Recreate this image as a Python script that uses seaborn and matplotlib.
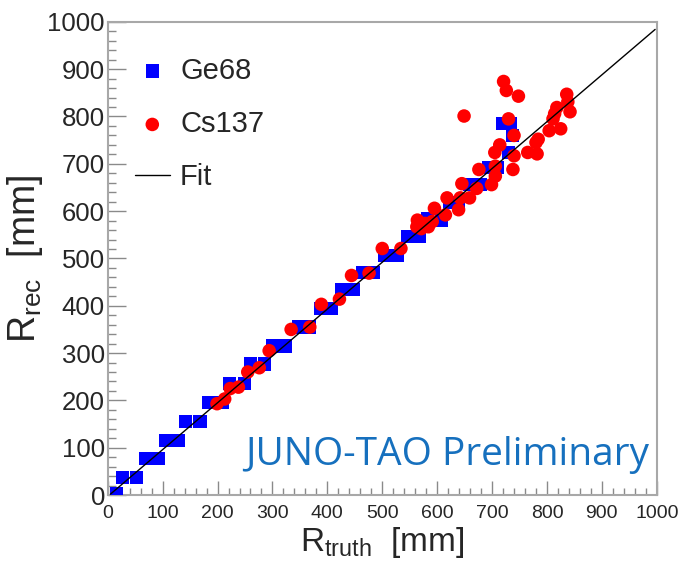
import numpy as np
import pandas as pd
import seaborn as sns
import matplotlib.pyplot as plt
from matplotlib.ticker import MultipleLocator

# Ge68 calibration points (R_truth, R_rec) in mm
ge68_truth = [16, 27, 53, 68, 93, 105, 128, 142, 168, 184, 208, 222, 249, 260,
              286, 301, 324, 348, 368, 387, 407, 426, 448, 464, 484, 505, 527,
              547, 568, 583, 608, 622, 639, 659, 679, 693, 709, 720, 733, 737,
              730]
ge68_rec = [2, 37, 37, 77, 77, 116, 116, 155, 155, 195, 195, 235, 235, 277,
            277, 315, 315, 355, 355, 394, 394, 434, 434, 471, 471, 506, 506,
            546, 546, 585, 581, 619, 619, 656, 656, 692, 692, 786, 786, 760,
            724]

# Cs137 calibration points (R_truth, R_rec) in mm
cs137_truth = [199, 213, 223, 238, 255, 276, 294, 334, 368, 389, 422, 444,
               476, 500, 534, 564, 563, 571, 578, 584, 591, 595, 615, 618,
               639, 642, 659, 645, 676, 672, 699, 706, 706, 705, 714, 740,
               730, 740, 738, 721, 726, 748, 649, 765, 782, 780, 784, 804,
               811, 818, 825, 836, 842, 838, 814]
cs137_rec = [193, 203, 225, 228, 260, 269, 305, 350, 355, 403, 414, 464,
             469, 521, 521, 581, 567, 563, 574, 567, 578, 606, 592, 628,
             603, 628, 628, 658, 688, 648, 656, 674, 695, 724, 740, 760,
             795, 717, 688, 874, 855, 843, 801, 724, 721, 745, 752, 770,
             795, 819, 774, 847, 810, 831, 806]

# linear fit R_rec = slope * R_truth + offset
fit_slope = 0.99
fit_offset = -3.0
fit_range = [5, 997]

sns.set_style('white')
plt.rcParams['font.family'] = ['Liberation Sans', 'DejaVu Sans']
plt.rcParams['mathtext.fontset'] = 'custom'
plt.rcParams['mathtext.rm'] = 'Liberation Sans'
plt.rcParams['mathtext.it'] = 'Liberation Sans'

ge_df = pd.DataFrame({'truth': ge68_truth, 'rec': ge68_rec})
cs_df = pd.DataFrame({'truth': cs137_truth, 'rec': cs137_rec})
fit_x = np.array(fit_range, dtype=float)
fit_df = pd.DataFrame({'truth': fit_x, 'rec': fit_slope * fit_x + fit_offset})

fig = plt.figure(figsize=(6.82, 5.68), dpi=100)
ax = fig.add_axes([0.158, 0.1285, 0.805, 0.833])

sns.scatterplot(data=ge_df, x='truth', y='rec', ax=ax, marker='s', s=90,
                color='#0000ff', edgecolor='none', label='Ge68', zorder=3)
sns.scatterplot(data=cs_df, x='truth', y='rec', ax=ax, marker='o', s=95,
                color='#ff0000', edgecolor='none', label='Cs137', zorder=4)
sns.lineplot(data=fit_df, x='truth', y='rec', ax=ax, color='black', lw=1.0,
             label='Fit', zorder=5)

ax.set_xlim(0, 1000)
ax.set_ylim(0, 1000)

# ROOT-like frame and ticks
for side in ax.spines.values():
    side.set_color('#a8a8a8')
    side.set_linewidth(1.5)
ax.xaxis.set_major_locator(MultipleLocator(100))
ax.xaxis.set_minor_locator(MultipleLocator(20))
ax.yaxis.set_major_locator(MultipleLocator(100))
ax.yaxis.set_minor_locator(MultipleLocator(20))
ax.tick_params(which='both', direction='in', color='#8a8a8a', width=1.0,
               bottom=True, left=True, top=False, right=False)
ax.tick_params(axis='x', which='major', length=10, pad=7, labelsize=14)
ax.tick_params(axis='x', which='minor', length=5)
ax.tick_params(axis='y', which='major', length=13, pad=2, labelsize=18.5)
ax.tick_params(axis='y', which='minor', length=6)

ax.set_xlabel(r'R$_{\mathrm{truth}}$  [mm]', fontsize=24, labelpad=2)
ax.set_ylabel(r'R$_{\mathrm{rec}}$  [mm]', fontsize=27, labelpad=2)

leg = ax.legend(loc='upper left', frameon=False, fontsize=21,
                labelspacing=0.87, handlelength=1.2, handletextpad=0.35,
                markerscale=1.0, bbox_to_anchor=(0.028, 0.951),
                borderaxespad=0)

ax.text(0.25, 0.063, 'JUNO-TAO Preliminary', transform=ax.transAxes,
        fontsize=28, color='#1670be', ha='left', va='baseline',
        family=['Open Sans', 'DejaVu Sans'])

fig.savefig('out.png', dpi=100)
